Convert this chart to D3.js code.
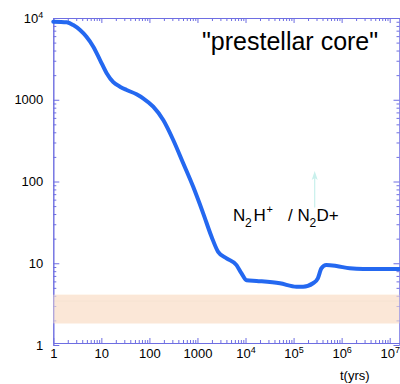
<!DOCTYPE html>
<html><head><meta charset="utf-8">
<script src="https://cdn.jsdelivr.net/npm/d3@7"></script>
<style>
html,body{margin:0;padding:0;background:#fff;}
svg{display:block;font-family:"Liberation Sans",Arial,sans-serif;}
</style></head>
<body><svg id="c" width="400" height="384"></svg>
<script>
// ---- data ----
const timeYrs = [1, 1.9, 2.6, 3.6, 4.9, 6.8, 9.4, 12.9, 17.7, 24.4, 33.6, 54, 74, 120, 194, 313, 505, 815, 1315, 1965, 2690, 4030, 6500, 8260, 10500, 17000, 52000, 115000, 158000, 254000, 320000, 380000, 480000, 780000, 1470000, 2800000, 16000000];
const ratio = [9020, 8860, 8200, 7130, 5900, 4460, 3060, 2110, 1640, 1445, 1316, 1166, 1042, 822, 565, 322, 167, 86, 40.8, 21.1, 13.8, 11.5, 9.5, 7.5, 6.2, 6.07, 5.69, 5.17, 5.17, 5.69, 6.55, 8.67, 9.5, 9.25, 8.67, 8.5, 8.5];
const xMajor = [1, 10, 100, 1000, 1e4, 1e5, 1e6, 1e7];
const xMajorLabels = ["1", "10", "100", "1000", "10^4", "10^5", "10^6", "10^7"];
const yMajor = [1, 10, 100, 1000, 1e4];
const yMajorLabels = ["1", "10", "100", "1000", "10^4"];
const observedBand = [1.84, 4.12];
const observedLine = [3.45];
const arrowAt = [{t: 2.75e5, from: 48, to: 134}];
const titleText = "\"prestellar core\"";
const xTitle = "t(yrs)";

// ---- scales ----
const svg = d3.select("#c");
const x = d3.scaleLog().domain([1, 1.6e7]).range([53.3, 399.5]);
const y = d3.scaleLog().domain([1, 1e4]).range([345, 18]);
const axisCol = "#6e6ee2";

function minors(lo, hi) {
  const out = [];
  for (let e = lo; e < hi; e++) for (let m = 2; m <= 9; m++) out.push(m * Math.pow(10, e));
  return out;
}
const xMinor = minors(0, 8).filter(v => v <= 1.6e7);
const yMinor = minors(0, 4);

function styleAxis(g) {
  g.selectAll("path.domain").attr("stroke", axisCol).attr("stroke-width", 1);
  g.selectAll(".tick line").attr("stroke", axisCol).attr("stroke-width", 1);
  g.selectAll(".tick text").attr("fill", "#000");
}
function setLabel(sel, labels, vals) {
  sel.selectAll(".tick text").each(function(d) {
    const i = vals.indexOf(d);
    const lab = labels[i];
    const t = d3.select(this).text(null);
    if (lab.includes("^")) {
      const [b, s] = lab.split("^");
      t.append("tspan").text(b);
      t.append("tspan").attr("dy", "-0.55em").attr("font-size", "9px").text(s);
    } else t.text(lab);
  });
}

// band
svg.append("rect")
  .attr("x", x(1)).attr("width", x(1.6e7) - x(1))
  .attr("y", y(observedBand[1])).attr("height", y(observedBand[0]) - y(observedBand[1]))
  .attr("fill", "#fbe7d7");
svg.append("line")
  .attr("x1", x(1)).attr("x2", x(1.6e7))
  .attr("y1", y(observedLine[0])).attr("y2", y(observedLine[0]))
  .attr("stroke", "#ecd9ca").attr("stroke-width", 1);

// bottom axis
const gB = svg.append("g").attr("transform", "translate(0,343)");
gB.call(d3.axisBottom(x).tickValues(xMinor).tickSize(-3).tickSizeOuter(0).tickFormat(""));
const gB2 = svg.append("g").attr("transform", "translate(0,343)");
gB2.call(d3.axisBottom(x).tickValues(xMajor).tickSize(-5).tickSizeOuter(0).tickPadding(6));
gB2.attr("font-size", 13).attr("font-family", "Liberation Sans, Arial, sans-serif");
setLabel(gB2, xMajorLabels, xMajor);
[gB, gB2].forEach(styleAxis);

// top axis
const gT = svg.append("g").attr("transform", "translate(0,18)");
gT.call(d3.axisTop(x).tickValues(xMinor).tickSize(-3).tickSizeOuter(0).tickFormat(""));
const gT2 = svg.append("g").attr("transform", "translate(0,18)");
gT2.call(d3.axisTop(x).tickValues(xMajor).tickSize(-5).tickSizeOuter(0).tickFormat(""));
[gT, gT2].forEach(styleAxis);

// left axis
const gL = svg.append("g").attr("transform", "translate(53.3,0)");
gL.call(d3.axisLeft(y).tickValues(yMinor).tickSize(-3).tickSizeOuter(0).tickFormat(""));
const gL2 = svg.append("g").attr("transform", "translate(53.3,0)");
gL2.call(d3.axisLeft(y).tickValues(yMajor).tickSize(-6).tickSizeOuter(0).tickPadding(10));
gL2.attr("font-size", 13).attr("font-family", "Liberation Sans, Arial, sans-serif");
setLabel(gL2, yMajorLabels, yMajor);
[gL, gL2].forEach(styleAxis);

// right axis
const gR = svg.append("g").attr("transform", "translate(399.5,0)");
gR.call(d3.axisRight(y).tickValues(yMinor).tickSize(-3).tickSizeOuter(0).tickFormat(""));
const gR2 = svg.append("g").attr("transform", "translate(399.5,0)");
gR2.call(d3.axisRight(y).tickValues(yMajor).tickSize(-6).tickSizeOuter(0).tickFormat(""));
[gR, gR2].forEach(styleAxis);

// band overlay for softened ticks
svg.append("rect")
  .attr("x", x(1)).attr("width", x(1.6e7) - x(1))
  .attr("y", y(observedBand[1])).attr("height", y(observedBand[0]) - y(observedBand[1]))
  .attr("fill", "#fbe7d7").attr("opacity", 0.6);

// curve
const pts = timeYrs.map((t, i) => [t, ratio[i]]);
svg.append("path").datum(pts)
  .attr("d", d3.line().x(d => x(d[0])).y(d => y(d[1])).curve(d3.curveMonotoneX))
  .attr("fill", "none").attr("stroke", "#2468f0").attr("stroke-width", 4)
  .attr("stroke-linecap", "round").attr("stroke-linejoin", "round");

// arrow
arrowAt.forEach(a => {
  const ax = x(a.t);
  const ty = y(a.to);
  svg.append("line").attr("x1", ax).attr("x2", ax)
    .attr("y1", y(a.from)).attr("y2", ty + 6)
    .attr("stroke", "#c9f0ec").attr("stroke-width", 1.2);
  svg.append("path")
    .attr("d", `M${ax},${ty} L${ax - 3},${ty + 9} L${ax},${ty + 7} L${ax + 3},${ty + 9} Z`)
    .attr("fill", "#c9f0ec");
});

// title
svg.append("text").attr("x", 202).attr("y", 50)
  .attr("font-size", "25px").attr("fill", "#000")
  .attr("font-family", "Liberation Sans, Arial, sans-serif")
  .text(titleText);

// species label
const lab = svg.append("g").attr("font-family", "Liberation Sans, Arial, sans-serif").attr("fill", "#000");
const parts = [
  {t: "N", x: 233, y: 221, s: 17},
  {t: "2", x: 245, y: 227, s: 12},
  {t: "H", x: 253.5, y: 221, s: 17},
  {t: "+", x: 266.5, y: 213, s: 11},
  {t: "/", x: 288, y: 221, s: 17},
  {t: "N", x: 297.5, y: 221, s: 17},
  {t: "2", x: 309.5, y: 227, s: 12},
  {t: "D+", x: 316.5, y: 221, s: 17}
];
lab.selectAll("text").data(parts).join("text")
  .attr("x", d => d.x).attr("y", d => d.y).attr("font-size", d => d.s + "px").text(d => d.t);

// x title
svg.append("text").attr("x", 340).attr("y", 380)
  .attr("font-size", "13px").attr("fill", "#000")
  .attr("font-family", "Liberation Sans, Arial, sans-serif")
  .text(xTitle);
</script></body></html>
